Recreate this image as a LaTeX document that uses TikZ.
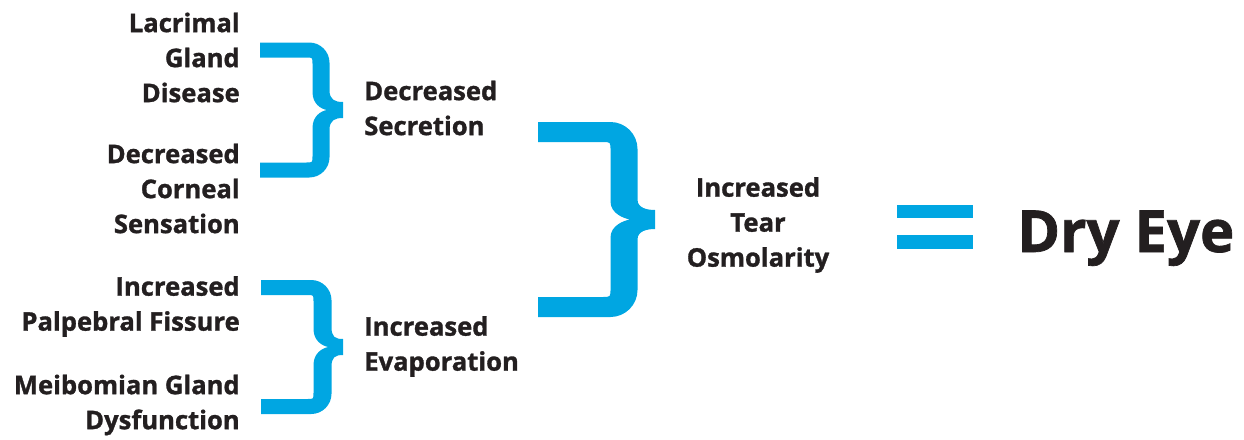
\documentclass[tikz,border=0pt]{standalone}
\usepackage{fontspec}
\setmainfont{Open Sans}[BoldFeatures={FakeBold=1.2}]
\usepackage{tikz}
\usetikzlibrary{positioning, calc}
\definecolor{mycyan}{RGB}{0,166,226}
\definecolor{mydark}{RGB}{35,31,32}
\tikzset{
  cause/.style={inner sep=0pt, align=right, anchor=east, text=mydark,
    font=\fontsize{19.2}{26.25}\selectfont\bfseries},
  effect/.style={inner sep=0pt, align=left, anchor=west, text=mydark,
    font=\fontsize{19.2}{26.25}\selectfont\bfseries},
  result/.style={inner sep=0pt, align=center, text=mydark,
    font=\fontsize{19.2}{26.25}\selectfont\bfseries},
  bracefill/.style={fill=mycyan}
}
% curly brace: #1 arm x, #2 top arm y, #3 bottom arm y, #4 stem x, #5 tip x,
% #6 half arm width, #7 half stem width
\newcommand{\curlybrace}[7]{%
  \pgfmathsetmacro{\ym}{(#2+#3)/2}
  \pgfmathsetmacro{\R}{2.7*#6}
  \pgfmathsetmacro{\r}{0.8*#6}
  \pgfmathsetmacro{\n}{0.6*#6+3.5}
  \pgfmathsetmacro{\cx}{#4+6}
  \fill[bracefill]
    (#1,#2-#6) -- (#4+#7-\R,#2-#6)
    .. controls (#4+#7-0.45*\R,#2-#6) and (#4+#7,#2-#6+0.45*\R) .. (#4+#7,#2-#6+\R)
    -- (#4+#7,\ym-20)
    .. controls (#4+#7,\ym-\n-2) and (#5-8,\ym-\n) .. (#5,\ym-\n)
    -- (#5,\ym+\n)
    .. controls (#5-8,\ym+\n) and (#4+#7,\ym+\n+2) .. (#4+#7,\ym+20)
    -- (#4+#7,#3+#6-\R)
    .. controls (#4+#7,#3+#6-0.45*\R) and (#4+#7-0.45*\R,#3+#6) .. (#4+#7-\R,#3+#6)
    -- (#1,#3+#6) -- (#1,#3-#6)
    -- (#4-#7-\r,#3-#6)
    .. controls (#4-#7,#3-#6) .. (#4-#7,#3-#6-\r)
    -- (#4-#7,\ym+18)
    .. controls (#4-#7,\ym+6) and (\cx-6,\ym+1) .. (\cx,\ym)
    .. controls (\cx-6,\ym-1) and (#4-#7,\ym-6) .. (#4-#7,\ym-18)
    -- (#4-#7,#2+#6+\r)
    .. controls (#4-#7,#2+#6) .. (#4-#7-\r,#2+#6)
    -- (#1,#2+#6) -- cycle;
}

\begin{document}
\begin{tikzpicture}[x=0.75pt, y=-0.75pt]
  \useasboundingbox (0,0) rectangle (1244,439);

  % Causes
  \node[cause] (lacrimal) at (240,57.5) {Lacrimal\\Gland\\Disease};
  \node[cause] (corneal) at (240,188.5) {Decreased\\Corneal\\Sensation};
  \node[cause] (palpebral) at (240,306.5) {Increased\\Palpebral Fissure};
  \node[cause] (meibomian) at (240,405) {Meibomian Gland\\Dysfunction};

  % Mechanisms
  \node[effect] (secretion) at (364,108) {Decreased\\Secretion};
  \node[effect] (evaporation) at (364,346.5) {Increased\\Evaporation};

  % Tear film
  \node[result] (osmolarity) at (758,225) {Increased\\Tear\\Osmolarity};

  % Braces
  \curlybrace{260}{50}{170}{321}{343}{7.5}{8.5}
  \curlybrace{261}{287.5}{406.5}{322.5}{343}{7.5}{9}
  \curlybrace{538}{132}{307}{624}{655}{10}{13.5}

  % Equals sign
  \fill[mycyan] (897,205) rectangle (973,218);
  \fill[mycyan] (897,235) rectangle (973,249);

  % Outcome
  \node[inner sep=0pt, anchor=base west, text=mydark,
    font=\fontsize{43.5}{48}\selectfont\bfseries] (dryeye) at (1017,252) {Dry Eye};
\end{tikzpicture}
\end{document}
